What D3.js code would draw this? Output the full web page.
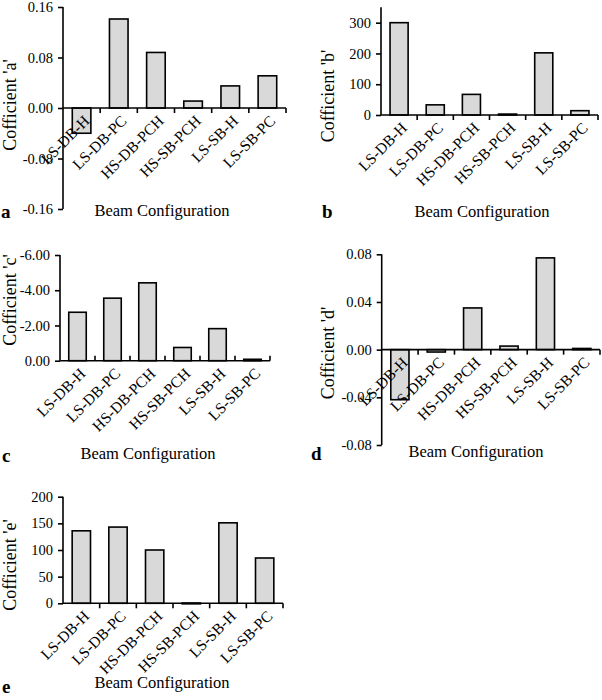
<!DOCTYPE html>
<html><head><meta charset="utf-8">
<script src="https://cdn.jsdelivr.net/npm/d3@7"></script>
<style>body{margin:0;background:#fff}svg{display:block}</style>
</head><body>
<svg id="c" width="602" height="700"></svg>
<script>
const categories = ["LS-DB-H","LS-DB-PC","HS-DB-PCH","HS-SB-PCH","LS-SB-H","LS-SB-PC"];
const coefA = [-0.040, 0.141, 0.088, 0.011, 0.035, 0.051];
const coefB = [300, 33, 67, 3, 202, 14];
const coefC = [-2.75, -3.55, -4.42, -0.75, -1.82, -0.08];
const coefD = [-0.042, -0.002, 0.035, 0.003, 0.077, 0.001];
const coefE = [136, 143, 100, 0.5, 151, 85];
const ticksA = [-0.16, -0.08, 0, 0.08, 0.16];
const ticksB = [0, 100, 200, 300];
const ticksC = [0, -2, -4, -6];
const ticksD = [-0.08, -0.04, 0, 0.04, 0.08];
const ticksE = [0, 50, 100, 150, 200];
const yTitles = ["Cofficient 'a'","Cofficient 'b'","Cofficient 'c'","Cofficient 'd'","Cofficient 'e'"];
const xTitle = "Beam Configuration";
const letters = ["a","b","c","d","e"];

const FONT = "'Liberation Serif','Times New Roman',serif";
const svg = d3.select("#c");
const loc = d3.formatLocale({decimal: ".", thousands: ",", grouping: [3], currency: ["", ""], minus: "-"});
const f2 = loc.format(".2f"), f0 = loc.format("d");

const panels = [
  {vals: coefA, ticks: ticksA, dom: [-0.16, 0.16], fmt: f2, x0: 63, x1: 286, yb: 209, yt: 7, tickDir: 1,
   yt_x: 10, yt_y: 105, xt_x: 162, xt_y: 216, lx: 1, ly: 218},
  {vals: coefB, ticks: ticksB, dom: [0, 350], fmt: f0, x0: 381, x1: 598, yb: 115, yt: 7.3, tickDir: 1,
   yt_x: 328, yt_y: 96, xt_x: 482, xt_y: 217, lx: 322, ly: 218},
  {vals: coefC, ticks: ticksC, dom: [0, -6], fmt: f2, x0: 60, x1: 270, yb: 360.7, yt: 255, tickDir: -1,
   yt_x: 10, yt_y: 300, xt_x: 148, xt_y: 459, lx: 2, ly: 462},
  {vals: coefD, ticks: ticksD, dom: [-0.08, 0.08], fmt: f2, x0: 381.7, x1: 600, yb: 445, yt: 254.3, tickDir: 1,
   yt_x: 328, yt_y: 353, xt_x: 476, xt_y: 457, lx: 311, ly: 460},
  {vals: coefE, ticks: ticksE, dom: [0, 200], fmt: f0, x0: 63, x1: 283, yb: 603.3, yt: 496.7, tickDir: 1,
   yt_x: 10, yt_y: 565, xt_x: 162, xt_y: 688, lx: 2, ly: 693}
];

panels.forEach((p, i) => {
  const g = svg.append("g");
  const x = d3.scaleBand().domain(categories).range([p.x0, p.x1]).paddingInner(0.5).paddingOuter(0.25);
  const y = d3.scaleLinear().domain(p.dom).range([p.yb, p.yt]);
  const y0 = y(0);

  g.selectAll("rect").data(p.vals).join("rect")
    .attr("x", (d, j) => x(categories[j]))
    .attr("width", x.bandwidth())
    .attr("y", d => Math.min(y(d), y0))
    .attr("height", d => Math.max(Math.abs(y(d) - y0), 0.8))
    .attr("fill", "#d9d9d9")
    .attr("stroke", "#000")
    .attr("stroke-width", 1.6);

  const ya = d3.axisLeft(y).tickValues(p.ticks).tickFormat(p.fmt).tickSize(5).tickPadding(5);
  const yg = g.append("g").attr("transform", `translate(${p.x0},0)`).call(ya);
  yg.select(".domain").attr("d", `M0,${p.yt}V${p.yb}`).attr("stroke-width", 1.6);
  yg.selectAll(".tick line").attr("stroke-width", 1.6);
  yg.selectAll(".tick text").attr("font-family", FONT).attr("font-size", 14.5).attr("fill", "#000");

  const bounds = d3.range(categories.length + 1).map(k => p.x0 + k * (p.x1 - p.x0) / categories.length);
  g.append("line").attr("x1", p.x0).attr("x2", p.x1).attr("y1", y0).attr("y2", y0)
    .attr("stroke", "#000").attr("stroke-width", 1.6);
  g.selectAll("line.xt").data(bounds.slice(1)).join("line").attr("class", "xt")
    .attr("x1", d => d).attr("x2", d => d)
    .attr("y1", y0).attr("y2", y0 + 5 * p.tickDir)
    .attr("stroke", "#000").attr("stroke-width", 1.6);

  g.selectAll("text.cat").data(categories).join("text").attr("class", "cat")
    .attr("transform", d => `translate(${x(d) + x.bandwidth() / 2 + 5},${y0 + 10}) rotate(-45)`)
    .attr("text-anchor", "end").attr("dy", "0.35em")
    .attr("font-family", FONT).attr("font-size", 15.5).text(d => d);

  g.append("text").attr("transform", `translate(${p.yt_x},${p.yt_y}) rotate(-90)`)
    .attr("text-anchor", "middle").attr("dy", "0.35em")
    .attr("font-family", FONT).attr("font-size", 18).text(yTitles[i]);
  g.append("text").attr("x", p.xt_x).attr("y", p.xt_y).attr("text-anchor", "middle")
    .attr("font-family", FONT).attr("font-size", 16.5).text(xTitle);
  g.append("text").attr("x", p.lx).attr("y", p.ly)
    .attr("font-family", FONT).attr("font-size", 19).attr("font-weight", "bold").text(letters[i]);
});
</script>
</body></html>
